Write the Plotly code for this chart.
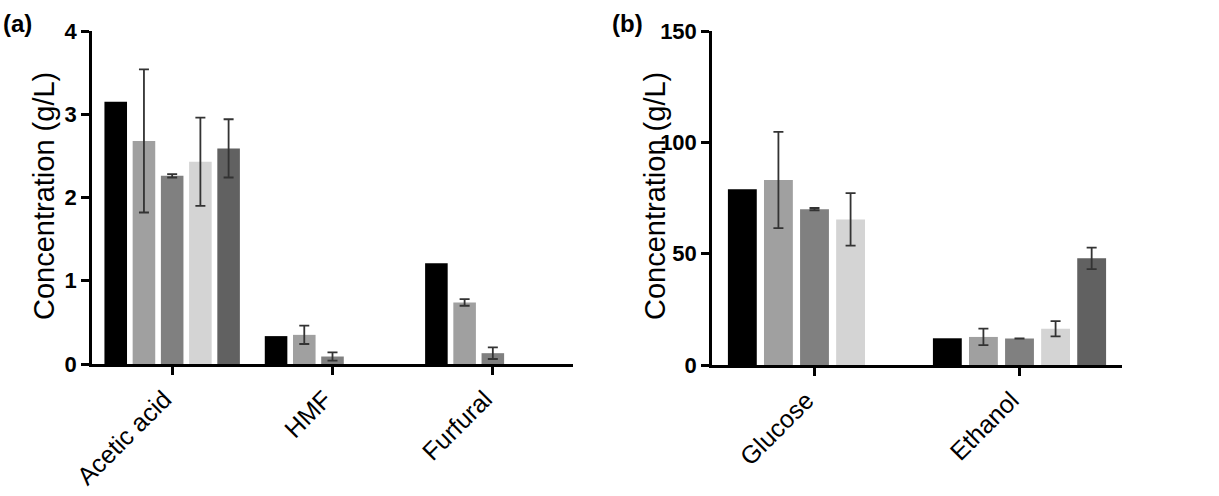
import plotly.graph_objects as go

# Panel (a) data
cats_a = ["Acetic acid", "HMF", "Furfural"]
s1_a = [3.15, 0.335, 1.21]
s2_a = [2.68, 0.35, 0.74]
s2_a_err = [0.86, 0.11, 0.04]
s3_a = [2.26, 0.09, 0.13]
s3_a_err = [0.02, 0.05, 0.07]
s4_a = [2.43, None, None]
s4_a_err = [0.53, None, None]
s5_a = [2.59, None, None]
s5_a_err = [0.35, None, None]

# Panel (b) data
cats_b = ["Glucose", "Ethanol"]
s1_b = [78.9, 12.0]
s2_b = [83.1, 12.6]
s2_b_err = [21.6, 3.7]
s3_b = [70.0, 11.9]
s3_b_err = [0.5, None]
s4_b = [65.4, 16.3]
s4_b_err = [11.8, 3.4]
s5_b = [None, 47.9]
s5_b_err = [None, 4.8]

y_title = "Concentration (g/L)"
panel_labels = ["(a)", "(b)"]

colors = ["#000000", "#a0a0a0", "#808080", "#d4d4d4", "#616161"]
FONT = "Liberation Sans"

fig = go.Figure()

def add(x, y, err, color, xa, ya):
    kw = {}
    if err is not None:
        kw["error_y"] = dict(type="data", array=err, visible=True,
                             color="#333333", thickness=1.8, width=5)
    fig.add_trace(go.Bar(x=x, y=y, marker=dict(color=color, line=dict(width=0)),
                         xaxis=xa, yaxis=ya, showlegend=False, **kw))

series_a = [(s1_a, None), (s2_a, s2_a_err), (s3_a, s3_a_err), (s4_a, s4_a_err), (s5_a, s5_a_err)]
series_b = [(s1_b, None), (s2_b, s2_b_err), (s3_b, s3_b_err), (s4_b, s4_b_err), (s5_b, s5_b_err)]
for (y, e), c in zip(series_a, colors):
    add(cats_a, y, e, c, "x", "y")
for (y, e), c in zip(series_b, colors):
    add(cats_b, y, e, c, "x2", "y2")

W, H = 1219, 496
axis_common = dict(showline=True, linecolor="black", linewidth=2.5, ticks="outside",
                   ticklen=8, tickwidth=2.5, tickcolor="black", showgrid=False,
                   zeroline=False, automargin=False)
tickf = dict(family=FONT, size=22, color="black", weight="bold")
catf = dict(family=FONT, size=25, color="black")
titf = dict(family=FONT, size=29, color="black")

fig.update_layout(
    template="none",
    width=W, height=H, margin=dict(l=0, r=0, t=0, b=0, autoexpand=False),
    paper_bgcolor="white", plot_bgcolor="white",
    barmode="group", bargap=0.12, bargroupgap=0.2,
    xaxis=dict(domain=[92 / W, 573 / W], anchor="y", type="category",
               range=[-0.5, 2.5], tickangle=-45, tickfont=catf,
               ticklabelshift=-8, **axis_common),
    yaxis=dict(domain=[1 - 364 / H, 1 - 31 / H], anchor="x", range=[0, 4],
               tickvals=[0, 1, 2, 3, 4], tickfont=tickf, **axis_common),
    xaxis2=dict(domain=[712 / W, 1122 / W], anchor="y2", type="category",
                range=[-0.5, 1.5], tickangle=-45, tickfont=catf,
                ticklabelshift=-8, **axis_common),
    yaxis2=dict(domain=[1 - 365 / H, 1 - 31 / H], anchor="x2", range=[0, 150],
                tickvals=[0, 50, 100, 150], tickfont=tickf, **axis_common),
    annotations=[
        dict(text=y_title, x=44 / W, y=1 - 196 / H, xref="paper", yref="paper",
             xanchor="center", yanchor="middle", textangle=-90, showarrow=False,
             font=titf),
        dict(text=y_title, x=655 / W, y=1 - 196 / H, xref="paper", yref="paper",
             xanchor="center", yanchor="middle", textangle=-90, showarrow=False,
             font=titf),
        dict(text="<b>" + panel_labels[0] + "</b>", x=1 / W, y=1 - 24 / H,
             xref="paper", yref="paper", xanchor="left", yanchor="middle",
             showarrow=False, font=dict(family=FONT, size=24, color="black")),
        dict(text="<b>" + panel_labels[1] + "</b>", x=610 / W, y=1 - 24 / H,
             xref="paper", yref="paper", xanchor="left", yanchor="middle",
             showarrow=False, font=dict(family=FONT, size=24, color="black")),
    ],
)

fig.write_html("out.html")
